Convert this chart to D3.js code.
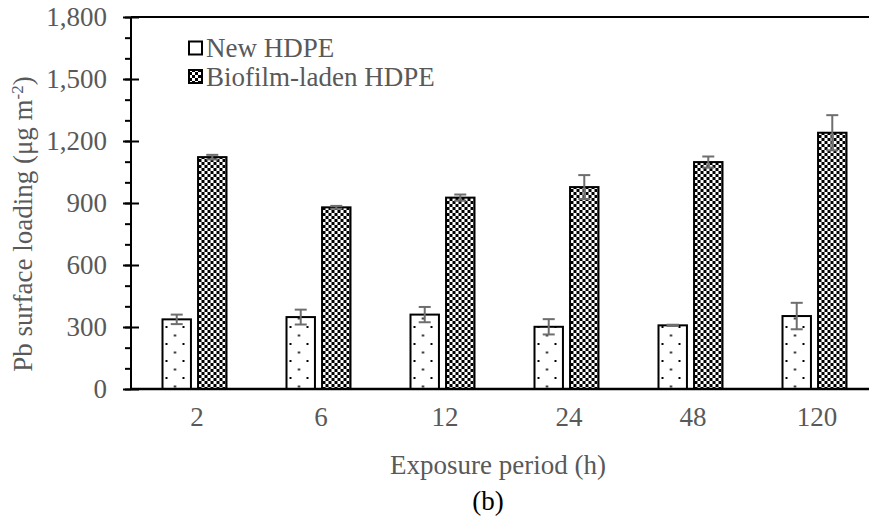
<!DOCTYPE html>
<html>
<head>
<meta charset="utf-8">
<script src="https://cdn.jsdelivr.net/npm/d3@7"></script>
<style>
  html, body { margin: 0; padding: 0; background: #fff; }
  svg { display: block; }
  text { font-family: "Liberation Serif", "Times New Roman", serif; }
</style>
</head>
<body>
<svg id="chart" width="869" height="521"></svg>
<script>
// ---- data ----
const categories = ["2", "6", "12", "24", "48", "120"];
const seriesNames = ["New HDPE", "Biofilm-laden HDPE"];
const newHDPE = [337, 348, 360, 301, 308, 353];
const newHDPEErr = [23, 36, 37, 37, 3, 64];
const biofilmHDPE = [1122, 879, 926, 977, 1098, 1240];
const biofilmHDPEErr = [11, 7, 15, 58, 27, 85];
const yTicks = [0, 300, 600, 900, 1200, 1500, 1800];
const xTitle = "Exposure period (h)";
const caption = "(b)";

const svg = d3.select("#chart");
const textColor = "#595959";
const fontSize = 27;

const margin = { left: 131, top: 17, right: 869, bottom: 389 };
const y = d3.scaleLinear().domain([0, 1800]).range([margin.bottom, margin.top]);
const x0 = d3.scaleBand().domain(categories).range([131, 875]);
const groupW = 64;
const x1 = d3.scaleBand().domain(seriesNames).range([0, groupW]).paddingInner(0.2);
const groupOffset = (x0.bandwidth() - groupW) / 2 + 1.5;

// ---- patterns ----
const defs = svg.append("defs");
const pDots = defs.append("pattern").attr("id", "dots")
  .attr("patternUnits", "userSpaceOnUse").attr("width", 17).attr("height", 17);
pDots.append("rect").attr("width", 17).attr("height", 17).attr("fill", "#fff");
pDots.append("rect").attr("x", 3).attr("y", 3).attr("width", 2).attr("height", 2).attr("fill", "#000");
pDots.append("rect").attr("x", 11.5).attr("y", 11.5).attr("width", 2).attr("height", 2).attr("fill", "#000");

const pCheck = defs.append("pattern").attr("id", "check")
  .attr("patternUnits", "userSpaceOnUse").attr("width", 6).attr("height", 6);
pCheck.append("rect").attr("width", 6).attr("height", 6).attr("fill", "#000");
pCheck.append("rect").attr("x", 0).attr("y", 0).attr("width", 3).attr("height", 3).attr("fill", "#fff");
pCheck.append("rect").attr("x", 3).attr("y", 3).attr("width", 3).attr("height", 3).attr("fill", "#fff");

const pLegDot = defs.append("pattern").attr("id", "legdot")
  .attr("patternUnits", "userSpaceOnUse").attr("width", 14).attr("height", 14);
pLegDot.append("rect").attr("width", 14).attr("height", 14).attr("fill", "#fff");
pLegDot.append("rect").attr("x", 6).attr("y", 6).attr("width", 2).attr("height", 2).attr("fill", "#000");

const fills = { "New HDPE": "url(#dots)", "Biofilm-laden HDPE": "url(#check)" };

// ---- data table ----
const rows = categories.map((c, i) => ({
  cat: c,
  vals: [
    { s: seriesNames[0], v: newHDPE[i], e: newHDPEErr[i] },
    { s: seriesNames[1], v: biofilmHDPE[i], e: biofilmHDPEErr[i] }
  ]
}));

// ---- top border ----
svg.append("line").attr("x1", margin.left).attr("x2", 869)
  .attr("y1", y(1800)).attr("y2", y(1800))
  .attr("stroke", "#000").attr("stroke-width", 2);

// ---- bars ----
const groups = svg.append("g").selectAll("g").data(rows).join("g")
  .attr("transform", d => `translate(${x0(d.cat) + groupOffset},0)`);

groups.selectAll("rect").data(d => d.vals).join("rect")
  .attr("x", d => x1(d.s))
  .attr("y", d => y(d.v))
  .attr("width", x1.bandwidth())
  .attr("height", d => y(0) - y(d.v))
  .attr("fill", d => fills[d.s])
  .attr("stroke", "#000")
  .attr("stroke-width", 2);

// ---- error bars ----
const eb = groups.selectAll("g.err").data(d => d.vals).join("g").attr("class", "err")
  .attr("stroke", "#6e6e6e").attr("stroke-width", 2);
eb.append("line")
  .attr("x1", d => x1(d.s) + x1.bandwidth() / 2).attr("x2", d => x1(d.s) + x1.bandwidth() / 2)
  .attr("y1", d => y(d.v - d.e)).attr("y2", d => y(d.v + d.e));
eb.append("line")
  .attr("x1", d => x1(d.s) + x1.bandwidth() / 2 - 6).attr("x2", d => x1(d.s) + x1.bandwidth() / 2 + 6)
  .attr("y1", d => y(d.v + d.e)).attr("y2", d => y(d.v + d.e));
eb.append("line")
  .attr("x1", d => x1(d.s) + x1.bandwidth() / 2 - 6).attr("x2", d => x1(d.s) + x1.bandwidth() / 2 + 6)
  .attr("y1", d => y(d.v - d.e)).attr("y2", d => y(d.v - d.e));

// ---- y axis ----
const yMinor = d3.range(0, 1801, 100);
const yAxisMinor = d3.axisLeft(y).tickValues(yMinor).tickSize(6).tickFormat("");
const gMinor = svg.append("g").attr("transform", `translate(${margin.left},0)`).call(yAxisMinor);
gMinor.select(".domain").remove();
gMinor.selectAll("line").attr("stroke", "#000").attr("stroke-width", 2);

const yAxis = d3.axisLeft(y).tickValues(yTicks).tickSize(8).tickPadding(16)
  .tickFormat(d3.format(","));
const gY = svg.append("g").attr("transform", `translate(${margin.left},0)`).call(yAxis);
gY.select(".domain").attr("stroke", "#000").attr("stroke-width", 2).attr("d", `M0,${y(0)}V${y(1800)}`);
gY.selectAll(".tick line").attr("stroke", "#000").attr("stroke-width", 2).attr("x1", 8);
gY.selectAll(".tick text").attr("fill", textColor).attr("font-size", fontSize)
  .attr("font-family", "Liberation Serif");

// ---- x axis ----
const xAxis = d3.axisBottom(x0).tickSize(0).tickPadding(18);
const gX = svg.append("g").attr("transform", `translate(0,${y(0)})`).call(xAxis);
gX.select(".domain").attr("stroke", "#000").attr("stroke-width", 2.5)
  .attr("d", `M${margin.left},0H869`);
gX.selectAll(".tick text").attr("fill", textColor).attr("font-size", fontSize)
  .attr("font-family", "Liberation Serif").attr("dx", 4);

// ---- titles ----
svg.append("text").attr("x", 498).attr("y", 474).attr("text-anchor", "middle")
  .attr("fill", textColor).attr("font-size", fontSize).text(xTitle);
svg.append("text").attr("x", 488).attr("y", 510).attr("text-anchor", "middle")
  .attr("fill", "#000").attr("font-size", fontSize).text(caption);

const yt = svg.append("text")
  .attr("transform", "translate(32,224) rotate(-90)")
  .attr("text-anchor", "middle").attr("fill", textColor).attr("font-size", fontSize);
yt.append("tspan").text("Pb surface loading (μg m");
yt.append("tspan").attr("baseline-shift", "super").attr("font-size", 17).text("-2");
yt.append("tspan").text(")");

// ---- legend ----
const legend = svg.append("g");
const legendFills = ["url(#legdot)", "url(#check)"];
seriesNames.forEach((s, i) => {
  const cy = 48 + i * 28.5;
  legend.append("rect").attr("x", 189).attr("y", cy - 6.5).attr("width", 13).attr("height", 13)
    .attr("fill", legendFills[i]).attr("stroke", "#000").attr("stroke-width", 2);
  legend.append("text").attr("x", 206).attr("y", cy + 9)
    .attr("fill", textColor).attr("font-size", fontSize).text(s);
});
</script>
</body>
</html>
